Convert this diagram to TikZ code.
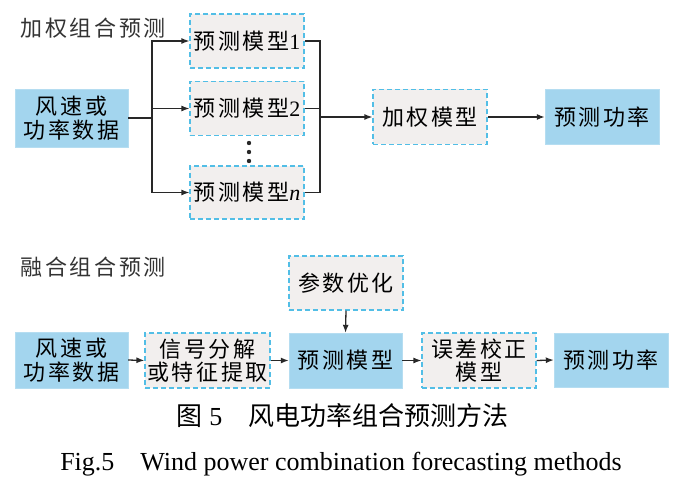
\documentclass[tikz,border=0pt]{standalone}
\usepackage{fontspec}
\setmainfont{Liberation Serif}
\newfontfamily\cjk[LetterSpace=12]{Noto Sans CJK SC}
\newfontfamily\cjkcap{Noto Sans CJK SC}
\usetikzlibrary{positioning,arrows.meta}

\definecolor{boxblue}{RGB}{163,213,238}
\definecolor{dashblue}{RGB}{82,190,230}
\definecolor{boxgray}{RGB}{242,239,238}
\definecolor{linegray}{RGB}{40,40,40}

\tikzset{
  bluebox/.style={fill=boxblue, draw=boxblue!80, inner sep=0pt, align=center,
    minimum width=113pt, minimum height=56pt, font=\fontsize{22}{23.5}\selectfont\cjk},
  dashbox/.style={fill=boxgray, draw=dashblue, line width=1.2pt, dash pattern=on 5pt off 3pt,
    inner sep=0pt, align=center, minimum width=114pt, minimum height=54pt,
    font=\fontsize{22}{23.5}\selectfont\cjk},
  link/.style={draw=linegray, line width=1.3pt},
  arrow/.style={link, -{Latex[length=8pt,width=6pt]}},
  heading/.style={anchor=west, text=black!80, font=\fontsize{22}{23.5}\selectfont\cjk}
}

\begin{document}
\begin{tikzpicture}[x=1pt, y=-1pt]
    \useasboundingbox (0,0) rectangle (696,500);

    % Weighted combination forecasting
    \node[heading] (titleA) at (17,28) {加权组合预测};
    \node[bluebox, minimum height=58pt] (inA) at (71.5,118) {风速或\\功率数据};

    \node[dashbox] (m1) at (247,41) {预测模型\rmfamily 1};
    \node[dashbox] (m2) at (247,108.5) {预测模型\rmfamily 2};
    \node[dashbox, minimum height=53pt] (mn) at (247,192.5) {预测模型\rmfamily\itshape n};
    \foreach \y in {143,152,161}
        \fill[linegray] (249,\y) circle (2.2pt);

    \node[dashbox, minimum height=55pt] (wm) at (430,117) {加权模型};
    \node[bluebox, minimum width=114pt, minimum height=55pt] (outA) at (602,117) {预测功率};

    % Branch to the single models
    \coordinate (split) at (152,118);
    \draw[link] (inA.east) -- (split);
    \draw[arrow] (split) |- (m1.west);
    \draw[arrow] (split) |- (m2.west);
    \draw[arrow] (split) |- (mn.west);

    % Join of the single models
    \coordinate (join) at (320,117);
    \draw[link] (m1.east) -| (join);
    \draw[link] (m2.east) -| (join);
    \draw[link] (mn.east) -| (join);
    \draw[arrow] (join) -- (wm.west);
    \draw[arrow] (wm.east) -- (outA.west);

    % Fusion combination forecasting
    \node[heading] (titleB) at (17,267) {融合组合预测};
    \node[bluebox] (inB) at (71.5,360) {风速或\\功率数据};
    \node[dashbox, minimum width=125pt, minimum height=55pt] (sig) at (207.5,360.5) {信号分解\\或特征提取};
    \node[bluebox, minimum height=55pt] (pm) at (345.5,360.5) {预测模型};
    \node[dashbox] (po) at (346,283) {参数优化};
    \node[dashbox, minimum height=55pt] (ec) at (479,360.5) {误差校正\\模型};
    \node[bluebox, minimum width=114pt, minimum height=54pt] (outB) at (611,360) {预测功率};

    \draw[arrow] (inB.east) -- (sig.west);
    \draw[arrow] (sig.east) -- (pm.west);
    \draw[arrow] (po.south) -- (pm.north);
    \draw[arrow] (pm.east) -- (ec.west);
    \draw[arrow] (ec.east) -- (outB.west);

    % Caption
    \node[font=\fontsize{26}{28}\selectfont] (capcn) at (342.5,416) {{\cjkcap 图}~5\quad{\cjkcap 风电功率组合预测方法}};
    \node[font=\fontsize{26}{28}\selectfont] (capen) at (341,464) {Fig.5\quad Wind power combination forecasting methods};
\end{tikzpicture}
\end{document}
